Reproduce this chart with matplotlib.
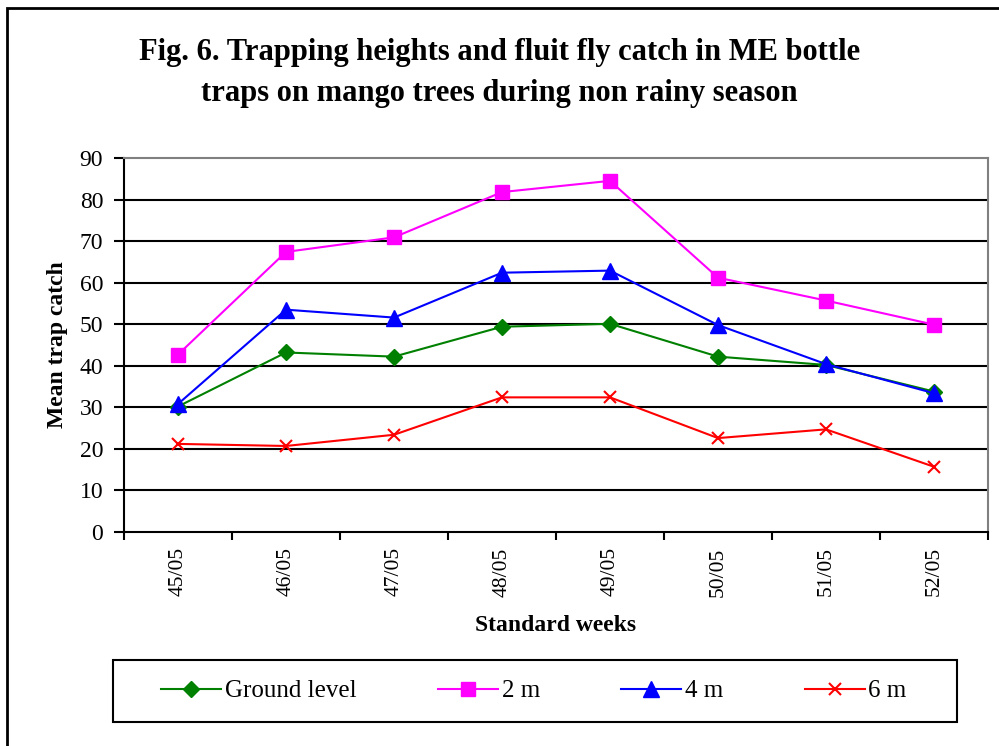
import matplotlib.pyplot as plt
from matplotlib.patches import Rectangle

weeks = ["45/05", "46/05", "47/05", "48/05", "49/05", "50/05", "51/05", "52/05"]
ground = [30.2, 43.2, 42.2, 49.4, 50.1, 42.2, 40.2, 33.8]
two_m = [42.7, 67.4, 70.9, 81.8, 84.5, 61.2, 55.7, 49.9]
four_m = [30.8, 53.5, 51.6, 62.4, 62.9, 49.8, 40.4, 33.4]
six_m = [21.2, 20.7, 23.4, 32.4, 32.4, 22.6, 24.7, 15.7]

plt.rcParams["font.family"] = ["Liberation Serif", "DejaVu Serif"]

W, H = 999, 746
fig = plt.figure(figsize=(W / 100, H / 100), dpi=100)
ax = fig.add_axes([124 / W, 1 - 532 / H, (988 - 124) / W, (532 - 158) / H])

x = list(range(len(weeks)))
ax.plot(x, ground, color="#008000", marker="D", markersize=8, lw=1.5, label="Ground level")
ax.plot(x, two_m, color="#FF00FF", marker="s", markersize=10, lw=1.5, label="2 m")
ax.plot(x, four_m, color="#0000FF", marker="^", markersize=11, lw=1.5, label="4 m")
ax.plot(x, six_m, color="#FF0000", marker="x", markersize=8, mew=1.5, lw=1.5, label="6 m")

ax.set_xlim(-0.5, len(weeks) - 0.5)
ax.set_ylim(0, 90)
ax.set_yticks(range(0, 91, 10))
ax.set_yticklabels([str(v) for v in range(0, 91, 10)], fontsize=17)
ax.set_xticks([i - 0.5 for i in range(len(weeks) + 1)])
ax.set_xticklabels([])
ax.set_xticks(x, minor=True)
ax.set_xticklabels(weeks, minor=True, rotation=90, fontsize=15.5)
ax.tick_params(axis="x", which="minor", length=0, pad=11)
ax.tick_params(axis="x", which="major", length=6, width=1.5, direction="out")
ax.tick_params(axis="y", length=7, width=1.5, direction="out", pad=8)

for v in range(10, 90, 10):
    ax.axhline(v, color="black", lw=1.5, zorder=0)
for side in ["left", "bottom"]:
    ax.spines[side].set_color("black")
    ax.spines[side].set_linewidth(1.5)
for side in ["top", "right"]:
    ax.spines[side].set_color("#808080")
    ax.spines[side].set_linewidth(1.5)

ax.set_ylabel("Mean trap catch", fontsize=17, fontweight="bold", labelpad=8)
ax.set_xlabel("Standard weeks", fontsize=17, fontweight="bold", labelpad=13)

fig.text(0.5, 1 - 73 / H,
         "Fig. 6. Trapping heights and fluit fly catch in ME bottle\ntraps on mango trees during non rainy season",
         ha="center", va="center", fontsize=22, fontweight="bold", linespacing=1.55)

# legend box drawn by hand, entries placed inside it
fig.patches.append(Rectangle((113 / W, 1 - 722 / H), (957 - 113) / W, 62 / H,
                             transform=fig.transFigure, fill=False,
                             edgecolor="black", lw=1.5))
leg = fig.legend(loc="center", ncol=4,
                 bbox_to_anchor=(534 / W, 1 - 691 / H),
                 fontsize=18, frameon=False,
                 handlelength=2.4, handletextpad=0.15, columnspacing=3.25,
                 borderaxespad=0)

fig.patches.append(Rectangle((7 / W, -0.05), 1.05, 1 - 8 / H + 0.05,
                             transform=fig.transFigure, fill=False,
                             edgecolor="black", lw=2))

fig.savefig("out.png", dpi=100)
